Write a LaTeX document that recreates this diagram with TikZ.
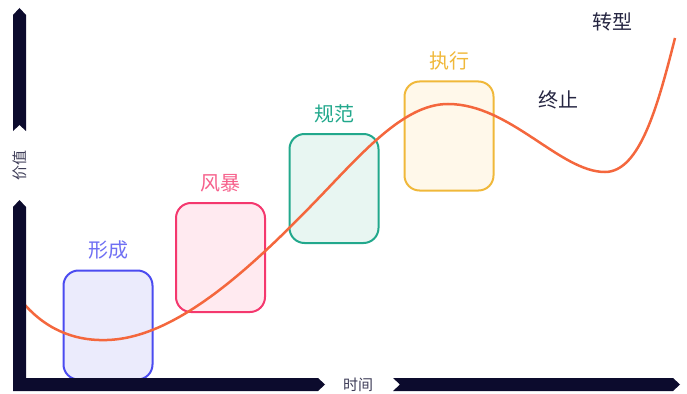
\documentclass[tikz,border=0pt]{standalone}
\usepackage{fontspec}
\setmainfont{Noto Sans CJK SC}
\usetikzlibrary{positioning}
\definecolor{axisnavy}{HTML}{0C0B2D}
\definecolor{curveorange}{HTML}{F4673D}
\definecolor{formblue}{HTML}{4B4BF0}
\definecolor{formfill}{HTML}{EBEBFC}
\definecolor{stormpink}{HTML}{F4386E}
\definecolor{stormfill}{HTML}{FFEAF0}
\definecolor{normteal}{HTML}{22A88C}
\definecolor{normfill}{HTML}{E8F6F2}
\definecolor{runyellow}{HTML}{F0B83A}
\definecolor{runfill}{HTML}{FFF8EA}
\definecolor{darktext}{HTML}{262642}

\begin{document}
\begin{tikzpicture}[x=1pt,y=-1pt,
    stage/.style={draw, line width=2pt, rounded corners=15pt,
        minimum width=89pt, minimum height=109pt, inner sep=0pt},
    phase/.style={font=\fontsize{20}{20}\selectfont, inner sep=0pt},
    axislabel/.style={font=\fontsize{15}{15}\selectfont, text=axisnavy!80, inner sep=0pt},
    node distance=10pt]
    \useasboundingbox (0,0) rectangle (687,393);

    % stages
    \node [stage, draw=formblue, fill=formfill] (form) at (108,325) {};
    \node [stage, draw=stormpink, fill=stormfill] (storm) at (220.5,257.5) {};
    \node [stage, draw=normteal, fill=normfill] (norm) at (334,188.5) {};
    \node [stage, draw=runyellow, fill=runfill] (run) at (449,136) {};

    \node [phase, text=formblue!80, above=of form] (formlabel) {形成};
    \node [phase, text=stormpink!80, above=of storm] (stormlabel) {风暴};
    \node [phase, text=normteal, above=of norm] (normlabel) {规范};
    \node [phase, text=runyellow, above=of run] (runlabel) {执行};
    \node [phase, text=darktext] (endlabel) at (558,100) {终止};
    \node [phase, text=darktext] (turnlabel) at (612,22) {转型};

    % value curve
    \draw [curveorange, line width=2.5pt] (25,305)
        .. controls (50,333) and (80,341) .. (107,340)
        .. controls (180,338) and (260,260) .. (334,182)
        .. controls (374,140) and (410,104) .. (448,104)
        .. controls (510,104) and (560,172) .. (605,172)
        .. controls (640,172) and (658,105) .. (675,38);

    % axes
    \fill [axisnavy] (13,15) -- (19.5,8) -- (26,15) -- (26,131) -- (19.5,125) -- (13,131) -- cycle;
    \fill [axisnavy] (13,207) -- (19.5,200) -- (26,207) -- (26,378) -- (318,378) -- (325,384.5)
        -- (318,391) -- (13,391) -- cycle;
    \fill [axisnavy] (393,378) -- (673,378) -- (680,384.5) -- (673,391) -- (393,391) -- (400,384.5) -- cycle;
    \node [axislabel, rotate=90] (value) at (19.5,165) {价值};
    \node [axislabel] (time) at (358,385) {时间};
\end{tikzpicture}
\end{document}
